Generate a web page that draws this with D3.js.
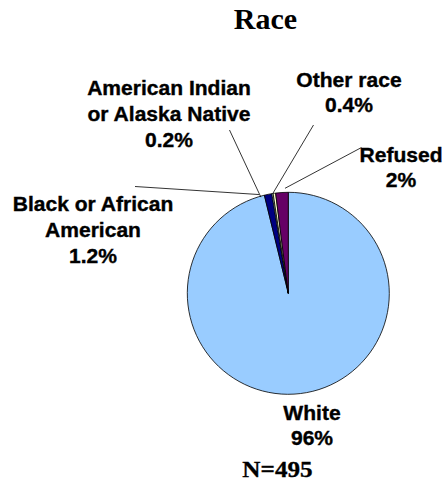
<!DOCTYPE html>
<html>
<head>
<meta charset="utf-8">
<script src="https://cdn.jsdelivr.net/npm/d3@7"></script>
<style>
  html, body { margin: 0; padding: 0; background: #fff; }
  svg { display: block; }
</style>
</head>
<body>
<svg id="chart" width="443" height="484"></svg>
<script>
// Race breakdown of respondents (percent of N=495)
const categories = ["White", "Black or African American", "American Indian or Alaska Native", "Other race", "Refused"];
const percents = [96, 1.2, 0.2, 0.4, 2];
const valueLabels = ["96%", "1.2%", "0.2%", "0.4%", "2%"];
const nameLines = [["White"], ["Black or African", "American"], ["American Indian", "or Alaska Native"], ["Other race"], ["Refused"]];
const sliceColors = ["#99CCFF", "#000080", "#CCFFFF", "#FFFFCC", "#660066"];
const title = "Race";
const footnote = "N=495";

// label placement: text centre, first baseline, leader start, leader angle shift (deg) and radius factor
const labelLayout = [
  { x: 312, y: 419.5, leader: null },
  { x: 93, y: 211, leader: [135, 186.5], shift: -5, rk: 1.02 },
  { x: 169, y: 95, leader: [229.5, 130], shift: -6.9, rk: 0.99 },
  { x: 349, y: 86.5, leader: [313.5, 125], shift: -0.9, rk: 1.0 },
  { x: 401, y: 161.7, leader: [361.5, 147.5], shift: 1.8, rk: 1.04 }
];

const svg = d3.select("#chart");
const cx = 288.3, cy = 293.3, radius = 101;
const lineGap = 25.8;
const labelFont = "'Liberation Sans', Arial, sans-serif";
const serifFont = "'Liberation Serif', 'Times New Roman', serif";

const data = categories.map((c, i) => ({ name: c, value: percents[i], i }));

// slices run clockwise from 12 o'clock
const pie = d3.pie().sort(null).value(d => d.value).startAngle(0).endAngle(2 * Math.PI);
const arcs = pie(data);
const arc = d3.arc().innerRadius(0).outerRadius(radius);

const g = svg.append("g").attr("transform", `translate(${cx},${cy})`);
g.selectAll("path.slice")
  .data(arcs)
  .join("path")
  .attr("class", "slice")
  .attr("d", arc)
  .attr("fill", d => sliceColors[d.data.i])
  .attr("stroke", "#000")
  .attr("stroke-width", 0.8)
  .attr("stroke-linejoin", "round");

// leader lines from each label to its slice
arcs.forEach(a => {
  const L = labelLayout[a.data.i];
  if (!L.leader) return;
  const ang = (a.startAngle + a.endAngle) / 2 + L.shift * Math.PI / 180;
  const r = radius * L.rk;
  const ex = cx + r * Math.sin(ang);
  const ey = cy - r * Math.cos(ang);
  svg.append("line")
    .attr("x1", L.leader[0]).attr("y1", L.leader[1])
    .attr("x2", ex).attr("y2", ey)
    .attr("stroke", "#000")
    .attr("stroke-width", 0.8);
});

// data labels: category name lines plus the percent
arcs.forEach(a => {
  const i = a.data.i;
  const L = labelLayout[i];
  const lines = nameLines[i].concat([valueLabels[i]]);
  const t = svg.append("text")
    .attr("transform", `translate(${L.x},${L.y}) scale(1.08,1)`)
    .attr("text-anchor", "middle")
    .attr("font-family", labelFont)
    .attr("font-weight", "bold")
    .attr("font-size", 19.5)
    .attr("fill", "#000")
    .attr("stroke", "#000")
    .attr("stroke-width", 0.35);
  lines.forEach((s, k) => {
    t.append("tspan").attr("x", 0).attr("y", k * lineGap).text(s);
  });
});

svg.append("text")
  .attr("x", 265.5).attr("y", 29.3)
  .attr("text-anchor", "middle")
  .attr("font-family", serifFont)
  .attr("font-weight", "bold")
  .attr("font-size", 30)
  .text(title);

svg.append("text")
  .attr("transform", "translate(277.5,477.3) scale(1.12,1)")
  .attr("text-anchor", "middle")
  .attr("font-family", serifFont)
  .attr("font-weight", "bold")
  .attr("font-size", 22.5)
  .attr("stroke", "#000")
  .attr("stroke-width", 0.3)
  .text(footnote);
</script>
</body>
</html>
